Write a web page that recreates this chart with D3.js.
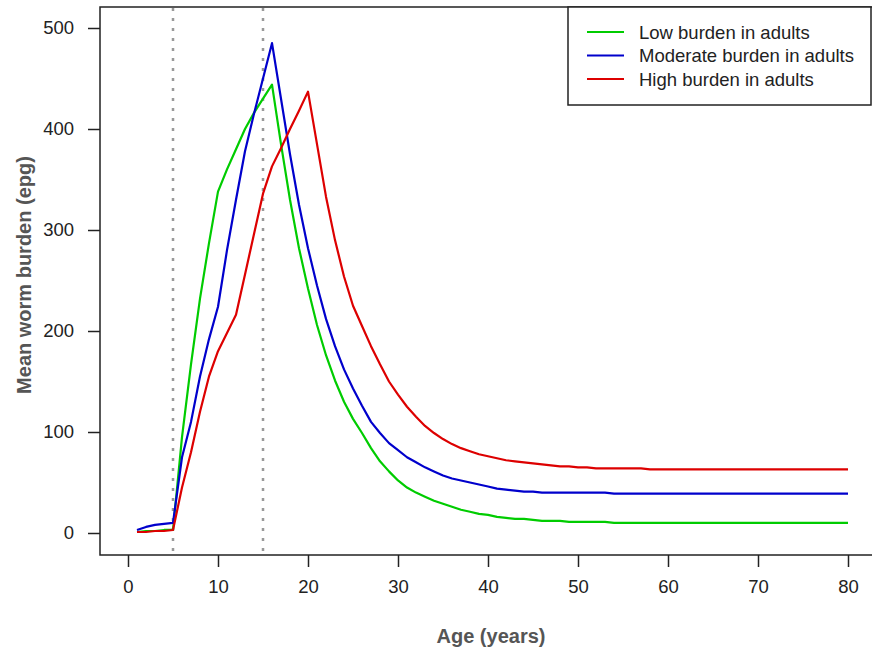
<!DOCTYPE html>
<html>
<head>
<meta charset="utf-8">
<script src="https://cdn.jsdelivr.net/npm/d3@7"></script>
<style>
  body { margin: 0; background: #fff; }
  svg text { font-family: "Liberation Sans", Arial, sans-serif; }
</style>
</head>
<body>
<svg id="chart" width="872" height="649"></svg>
<script>
// ages 1..80
var ages = d3.range(1, 81);

// Low burden in adults
var lowBurden = [1, 2, 2, 3, 3, 95, 167, 232, 287, 338,
  360, 380, 400, 416, 430, 444, 385, 330, 282, 242,
  206, 176, 151, 130, 113, 99, 84, 71, 61, 52,
  45, 40, 36, 32, 29, 26, 23, 21, 19, 18,
  16, 15, 14, 14, 13, 12, 12, 12, 11, 11,
  11, 11, 11, 10, 10, 10, 10, 10, 10, 10,
  10, 10, 10, 10, 10, 10, 10, 10, 10, 10,
  10, 10, 10, 10, 10, 10, 10, 10, 10, 10];

// Moderate burden in adults
var modBurden = [3, 6, 8, 9, 10, 75, 110, 155, 192, 224,
  280, 330, 378, 415, 450, 485, 430, 375, 325, 282,
  245, 212, 185, 162, 143, 126, 110, 99, 89, 82,
  75, 70, 65, 61, 57, 54, 52, 50, 48, 46,
  44, 43, 42, 41, 41, 40, 40, 40, 40, 40,
  40, 40, 40, 39, 39, 39, 39, 39, 39, 39,
  39, 39, 39, 39, 39, 39, 39, 39, 39, 39,
  39, 39, 39, 39, 39, 39, 39, 39, 39, 39];

// High burden in adults
var highBurden = [1, 1, 2, 2, 3, 45, 80, 120, 155, 180,
  198, 216, 256, 296, 336, 363, 381, 400, 418, 437,
  385, 333, 290, 254, 225, 205, 185, 167, 150, 137,
  125, 115, 106, 99, 93, 88, 84, 81, 78, 76,
  74, 72, 71, 70, 69, 68, 67, 66, 66, 65,
  65, 64, 64, 64, 64, 64, 64, 63, 63, 63,
  63, 63, 63, 63, 63, 63, 63, 63, 63, 63,
  63, 63, 63, 63, 63, 63, 63, 63, 63, 63];

var seriesNames = ["Low burden in adults", "Moderate burden in adults", "High burden in adults"];
var seriesColors = ["#00cc00", "#0000cc", "#dd0000"];
var seriesData = [lowBurden, modBurden, highBurden];

var xTicks = [0, 10, 20, 30, 40, 50, 60, 70, 80];
var yTicks = [0, 100, 200, 300, 400, 500];
var markerAges = [5, 15];

var svg = d3.select("#chart");

// plot box edges (right edge sits outside the window, like the original)
var boxL = 100, boxT = 7, boxB = 555, boxR = 880;

var x = d3.scaleLinear().domain([0, 80]).range([128, 848]);
var y = d3.scaleLinear().domain([0, 500]).range([533, 28]);

// box
svg.append("rect")
  .attr("x", boxL).attr("y", boxT)
  .attr("width", boxR - boxL).attr("height", boxB - boxT)
  .attr("fill", "none").attr("stroke", "#222").attr("stroke-width", 1.5);

// dotted reference lines
svg.selectAll(".vline").data(markerAges).enter().append("line")
  .attr("class", "vline")
  .attr("x1", d => x(d)).attr("x2", d => x(d))
  .attr("y1", boxT + 1).attr("y2", boxB - 1)
  .attr("stroke", "#999").attr("stroke-width", 2.5)
  .attr("stroke-dasharray", "3,7");

// axes
var xAxis = svg.append("g")
  .attr("transform", "translate(0," + boxB + ")")
  .call(d3.axisBottom(x).tickValues(xTicks).tickSize(12).tickPadding(13));
var yAxis = svg.append("g")
  .attr("transform", "translate(" + boxL + ",0)")
  .call(d3.axisLeft(y).tickValues(yTicks).tickSize(12).tickPadding(14));

[xAxis, yAxis].forEach(function(g) {
  g.select(".domain").remove();
  g.selectAll("line").attr("stroke", "#222").attr("stroke-width", 1.5);
  g.selectAll("text").attr("font-size", 18.5).attr("fill", "#222")
    .style("font-family", "'Liberation Sans', Arial, sans-serif");
});

// lines
var line = d3.line()
  .x((d, i) => x(ages[i]))
  .y(d => y(d));

seriesData.forEach(function(vals, i) {
  svg.append("path")
    .datum(vals)
    .attr("d", line)
    .attr("fill", "none")
    .attr("stroke", seriesColors[i])
    .attr("stroke-width", 2.2)
    .attr("stroke-linejoin", "round");
});

// axis titles
svg.append("text")
  .attr("x", 491).attr("y", 643)
  .attr("text-anchor", "middle")
  .attr("font-size", 20).attr("font-weight", "bold").attr("fill", "#555")
  .text("Age (years)");

svg.append("text")
  .attr("transform", "translate(31,275) rotate(-90)")
  .attr("text-anchor", "middle")
  .attr("font-size", 20).attr("font-weight", "bold").attr("fill", "#555")
  .text("Mean worm burden (epg)");

// legend
var legend = svg.append("g");
legend.append("rect")
  .attr("x", 568).attr("y", boxT)
  .attr("width", 303).attr("height", 98)
  .attr("fill", "#fff").attr("stroke", "#222").attr("stroke-width", 1.5);

seriesNames.forEach(function(name, i) {
  var ly = 32 + i * 23.5;
  legend.append("line")
    .attr("x1", 587).attr("x2", 624)
    .attr("y1", ly).attr("y2", ly)
    .attr("stroke", seriesColors[i]).attr("stroke-width", 2.2);
  legend.append("text")
    .attr("x", 639).attr("y", ly + 6.5)
    .attr("font-size", 18.5).attr("fill", "#222")
    .text(name);
});
</script>
</body>
</html>
